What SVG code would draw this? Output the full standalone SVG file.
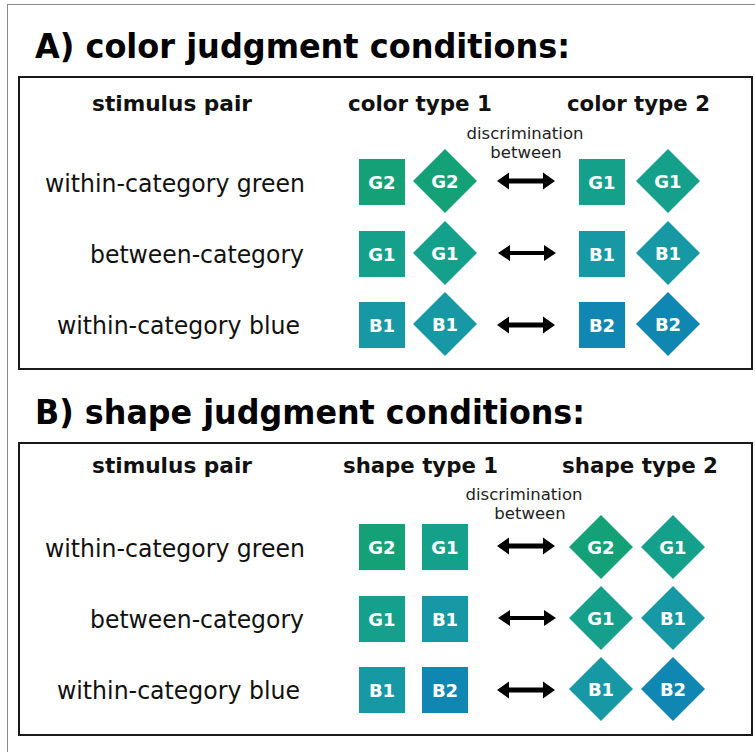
<svg xmlns="http://www.w3.org/2000/svg" xmlns:xlink="http://www.w3.org/1999/xlink" width="755" height="752" viewBox="0 0 755 752">
<style>
.title{font-family:"DejaVu Sans",Verdana,sans-serif;font-weight:bold;font-size:34px;fill:#000}
.head{font-family:"DejaVu Sans",Verdana,sans-serif;font-weight:bold;font-size:22px;fill:#111}
.lab{font-family:"DejaVu Sans",Verdana,sans-serif;font-size:25px;fill:#111;text-anchor:end}
.disc{font-family:"DejaVu Sans",Verdana,sans-serif;font-size:16.5px;fill:#222;text-anchor:middle}
.st{font-family:"DejaVu Sans",Verdana,sans-serif;font-weight:bold;font-size:18px;fill:#fff;text-anchor:middle}
.box{fill:none;stroke:#1a1a1a;stroke-width:2}
.g2{fill:#14a178}
.g1{fill:#15a08b}
.b1{fill:#1699a4}
.b2{fill:#1087b2}
.arr{fill:#000}
</style>
<defs>
<rect id="sq" x="-23" y="-23" width="46" height="46"/>
<polygon id="dm" points="0,-32 32,0 0,32 -32,0"/>
<path id="arT" d="M-29,0 L-17,-8.5 L-17,-2.5 L17,-2.5 L17,-8.5 L29,0 L17,8.5 L17,2.5 L-17,2.5 L-17,8.5 Z"/>
<path id="arN" d="M-29,0 L-17,-8 L-17,-2 L17,-2 L17,-8 L29,0 L17,8 L17,2 L-17,2 L-17,8 Z"/>
</defs>
<rect x="7.5" y="4.5" width="800" height="800" fill="#fff" stroke="#8a8a8a" stroke-width="1"/>

<g id="panelA">
<text class="title" x="35" y="58" textLength="535" lengthAdjust="spacingAndGlyphs">A) color judgment conditions:</text>
<rect class="box" x="19" y="77" width="733" height="292"/>
<text class="head" x="92" y="111" textLength="160" lengthAdjust="spacingAndGlyphs">stimulus pair</text>
<text class="head" x="348" y="111" textLength="144" lengthAdjust="spacingAndGlyphs">color type 1</text>
<text class="head" x="567" y="111" textLength="143" lengthAdjust="spacingAndGlyphs">color type 2</text>
<text class="disc" x="525" y="139">discrimination</text>
<text class="disc" x="526" y="158">between</text>
<text class="lab" x="305" y="192" textLength="260" lengthAdjust="spacingAndGlyphs">within-category green</text>
<text class="lab" x="304" y="263" textLength="214" lengthAdjust="spacingAndGlyphs">between-category</text>
<text class="lab" x="300" y="334" textLength="243" lengthAdjust="spacingAndGlyphs">within-category blue</text>
</g>

<g id="nodesA">
<g id="A1a"><use xlink:href="#sq" class="g2" x="382" y="182"/><text class="st" x="382" y="189">G2</text></g>
<g id="A1b"><use xlink:href="#dm" class="g2" x="445" y="181"/><text class="st" x="445" y="188">G2</text></g>
<g id="A1c"><use xlink:href="#sq" class="g1" x="602" y="182"/><text class="st" x="602" y="189">G1</text></g>
<g id="A1d"><use xlink:href="#dm" class="g1" x="668" y="181"/><text class="st" x="668" y="188">G1</text></g>
<g id="A2a"><use xlink:href="#sq" class="g1" x="382" y="254"/><text class="st" x="382" y="261">G1</text></g>
<g id="A2b"><use xlink:href="#dm" class="g1" x="445" y="253"/><text class="st" x="445" y="260">G1</text></g>
<g id="A2c"><use xlink:href="#sq" class="b1" x="602" y="254"/><text class="st" x="602" y="261">B1</text></g>
<g id="A2d"><use xlink:href="#dm" class="b1" x="668" y="253"/><text class="st" x="668" y="260">B1</text></g>
<g id="A3a"><use xlink:href="#sq" class="b1" x="382" y="325"/><text class="st" x="382" y="332">B1</text></g>
<g id="A3b"><use xlink:href="#dm" class="b1" x="445" y="324"/><text class="st" x="445" y="331">B1</text></g>
<g id="A3c"><use xlink:href="#sq" class="b2" x="602" y="325"/><text class="st" x="602" y="332">B2</text></g>
<g id="A3d"><use xlink:href="#dm" class="b2" x="668" y="324"/><text class="st" x="668" y="331">B2</text></g>
</g>

<g id="panelB">
<text class="title" x="35" y="424" textLength="550" lengthAdjust="spacingAndGlyphs">B) shape judgment conditions:</text>
<rect class="box" x="19" y="443" width="733" height="292"/>
<text class="head" x="92" y="473" textLength="160" lengthAdjust="spacingAndGlyphs">stimulus pair</text>
<text class="head" x="343" y="473" textLength="155" lengthAdjust="spacingAndGlyphs">shape type 1</text>
<text class="head" x="562" y="473" textLength="156" lengthAdjust="spacingAndGlyphs">shape type 2</text>
<text class="disc" x="524" y="500">discrimination</text>
<text class="disc" x="530" y="519">between</text>
<text class="lab" x="305" y="557" textLength="260" lengthAdjust="spacingAndGlyphs">within-category green</text>
<text class="lab" x="304" y="628" textLength="214" lengthAdjust="spacingAndGlyphs">between-category</text>
<text class="lab" x="300" y="699" textLength="243" lengthAdjust="spacingAndGlyphs">within-category blue</text>
</g>

<g id="nodesB">
<g id="B1a"><use xlink:href="#sq" class="g2" x="382" y="547"/><text class="st" x="382" y="554">G2</text></g>
<g id="B1b"><use xlink:href="#sq" class="g1" x="445" y="547"/><text class="st" x="445" y="554">G1</text></g>
<g id="B1c"><use xlink:href="#dm" class="g2" x="601" y="547"/><text class="st" x="601" y="554">G2</text></g>
<g id="B1d"><use xlink:href="#dm" class="g1" x="673" y="547"/><text class="st" x="673" y="554">G1</text></g>
<g id="B2a"><use xlink:href="#sq" class="g1" x="382" y="619"/><text class="st" x="382" y="626">G1</text></g>
<g id="B2b"><use xlink:href="#sq" class="b1" x="445" y="619"/><text class="st" x="445" y="626">B1</text></g>
<g id="B2c"><use xlink:href="#dm" class="g1" x="601" y="618"/><text class="st" x="601" y="625">G1</text></g>
<g id="B2d"><use xlink:href="#dm" class="b1" x="673" y="618"/><text class="st" x="673" y="625">B1</text></g>
<g id="B3a"><use xlink:href="#sq" class="b1" x="382" y="690"/><text class="st" x="382" y="697">B1</text></g>
<g id="B3b"><use xlink:href="#sq" class="b2" x="445" y="690"/><text class="st" x="445" y="697">B2</text></g>
<g id="B3c"><use xlink:href="#dm" class="b1" x="601" y="689"/><text class="st" x="601" y="696">B1</text></g>
<g id="B3d"><use xlink:href="#dm" class="b2" x="673" y="689"/><text class="st" x="673" y="696">B2</text></g>
</g>

<g id="connectors">
<use xlink:href="#arT" class="arr" x="526" y="181"/>
<use xlink:href="#arN" class="arr" x="527" y="253"/>
<use xlink:href="#arT" class="arr" x="526" y="325"/>
<use xlink:href="#arT" class="arr" x="526" y="546"/>
<use xlink:href="#arN" class="arr" x="527" y="618"/>
<use xlink:href="#arT" class="arr" x="526" y="690"/>
</g>
</svg>
